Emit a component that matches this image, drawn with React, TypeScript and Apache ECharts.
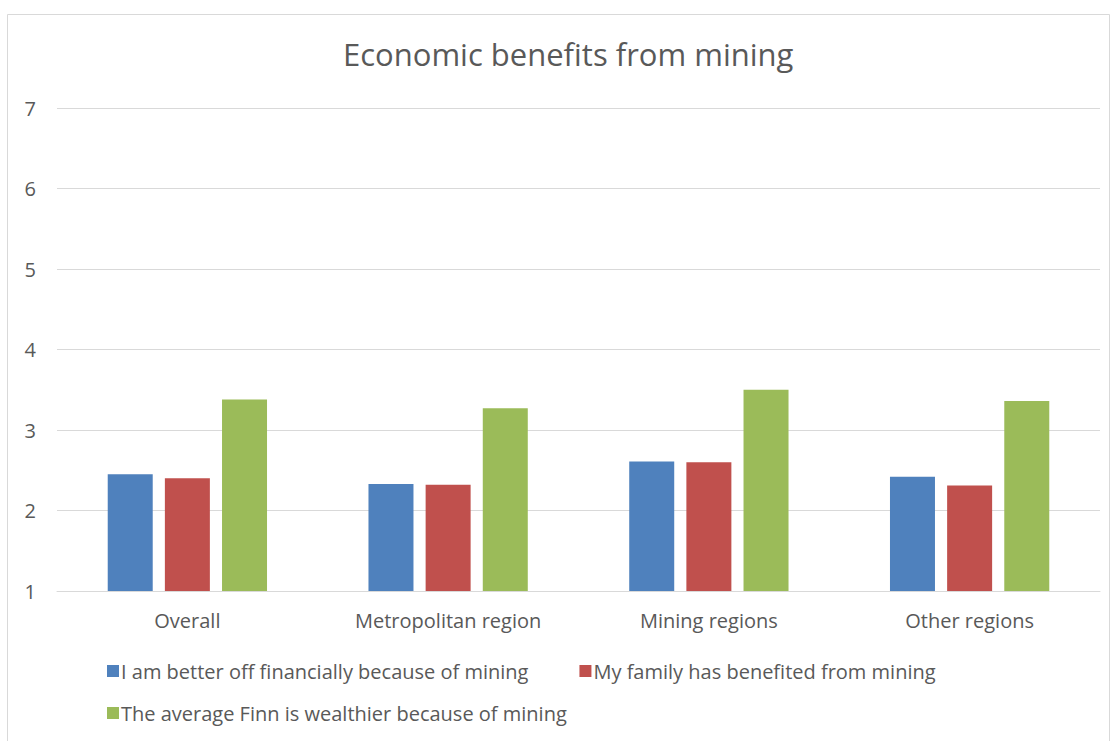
import React, { useEffect, useRef } from "react";
import * as echarts from "echarts";

const categories = ["Overall", "Metropolitan region", "Mining regions", "Other regions"];
const seriesNames = [
  "I am better off financially because of mining",
  "My family has benefited from mining",
  "The average Finn is wealthier because of mining",
];
const betterOff = [2.45, 2.33, 2.61, 2.42];
const familyBenefited = [2.4, 2.32, 2.6, 2.31];
const averageFinn = [3.38, 3.27, 3.5, 3.36];
const colors = ["#4f81bd", "#c0504d", "#9bbb59"];

const FONT = "'Open Sans', 'Liberation Sans', sans-serif";
const TXT = "#595959";

export default function App() {
  const ref = useRef<HTMLDivElement>(null);
  useEffect(() => {
    if (!ref.current) return;
    const chart = echarts.init(ref.current, null, { renderer: "svg" });
    const values = [betterOff, familyBenefited, averageFinn];
    chart.setOption({
      animation: false,
      backgroundColor: "#ffffff",
      textStyle: { fontFamily: FONT },
      title: {
        text: "Economic benefits from mining",
        left: 338,
        top: 33,
        textStyle: { fontFamily: FONT, fontSize: 31, fontWeight: "normal", color: TXT },
      },
      graphic: [
        {
          type: "rect",
          shape: { x: 7.5, y: 14.5, width: 1102, height: 760 },
          style: { fill: "none", stroke: "#d9d9d9", lineWidth: 1 },
          silent: true,
        },
      ],
      legend: [
        {
          data: [seriesNames[0], seriesNames[1]],
          left: 102,
          top: 656,
          itemWidth: 12,
          itemHeight: 12,
          itemGap: 51,
          icon: "rect",
          textStyle: { fontFamily: FONT, fontSize: 20, color: TXT, padding: [0, 0, 0, -3] },
        },
        {
          data: [seriesNames[2]],
          left: 102,
          top: 698,
          itemWidth: 12,
          itemHeight: 12,
          icon: "rect",
          textStyle: { fontFamily: FONT, fontSize: 20, color: TXT, padding: [0, 0, 0, -3] },
        },
      ],
      grid: { left: 57, right: 14, top: 108, bottom: 150, containLabel: false },
      xAxis: {
        type: "category",
        data: categories,
        axisLine: { lineStyle: { color: "#d9d9d9", width: 1 } },
        axisTick: { show: false },
        axisLabel: { fontFamily: FONT, fontSize: 20, color: TXT, margin: 19 },
      },
      yAxis: {
        type: "value",
        min: 1,
        max: 7,
        interval: 1,
        axisLine: { show: false },
        axisTick: { show: false },
        splitLine: { lineStyle: { color: "#d9d9d9", width: 1 } },
        axisLabel: { fontFamily: FONT, fontSize: 20, color: TXT, margin: 21 },
      },
      series: seriesNames.map((name, i) => ({
        name,
        type: "bar",
        data: values[i],
        barWidth: 45,
        barGap: "27%",
        itemStyle: { color: colors[i] },
      })),
    });
    return () => chart.dispose();
  }, []);
  return (
    <div
      ref={ref}
      style={{ position: "fixed", left: 0, top: 0, width: 1114, height: 741 }}
    />
  );
}
